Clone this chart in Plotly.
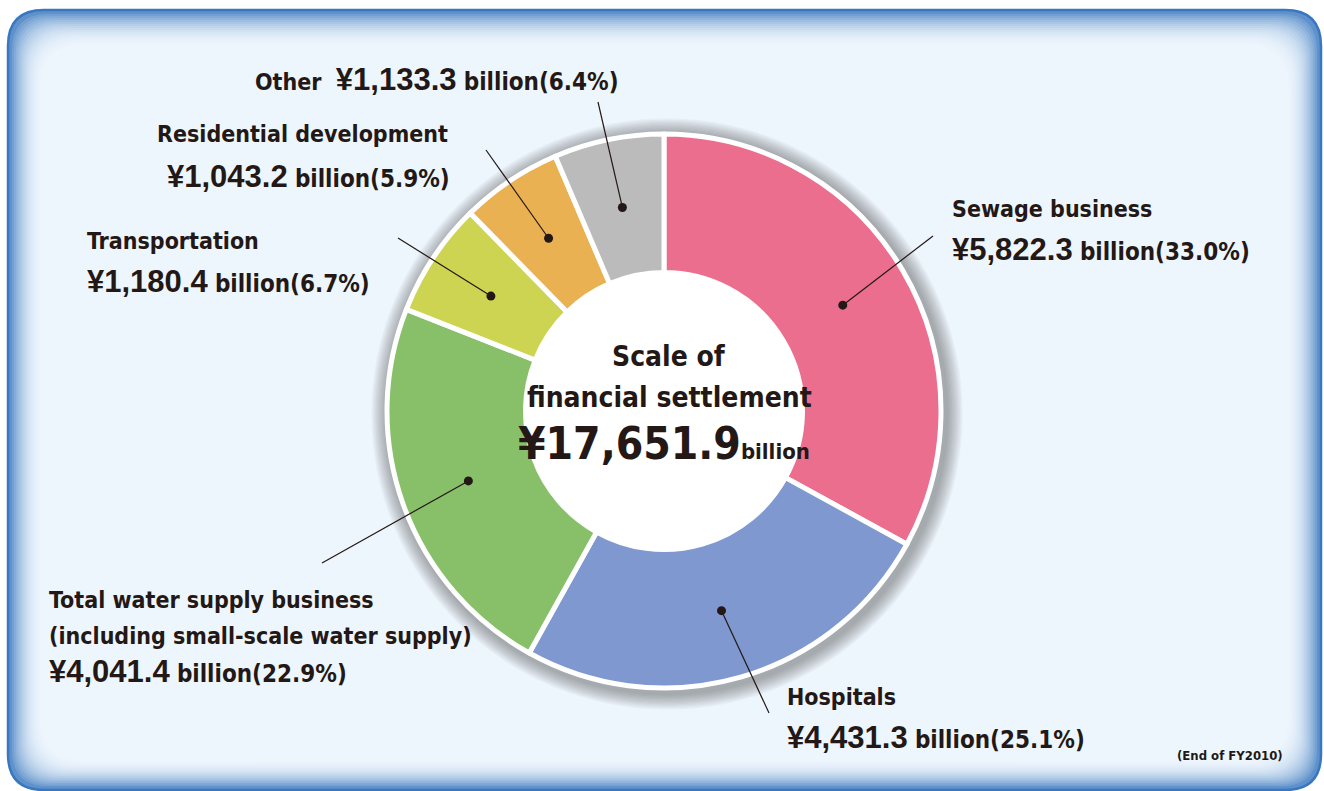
import math
import plotly.graph_objects as go

# Scale of financial settlement by business type (billion yen, end of FY2010)
categories = ["Sewage business", "Hospitals",
              "Total water supply business", "Transportation",
              "Residential development", "Other"]
values = [5822.3, 4431.3, 4041.4, 1180.4, 1043.2, 1133.3]
colors = ["#ec6e8e", "#7f98cf", "#88c06a", "#cdd452", "#e9b152", "#bcbbbb"]

# label text lines (the value line is appended from the data)
label_lines = {
    "Sewage business": ["Sewage business"],
    "Hospitals": ["Hospitals"],
    "Total water supply business": ["Total water supply business",
                                    "(including small-scale water supply)"],
    "Transportation": ["Transportation"],
    "Residential development": ["Residential development"],
    "Other": [],
}

W, H = 1324, 791
FONT = "Liberation Sans Narrow, DejaVu Sans Condensed, Arial Narrow, sans-serif"
NUMFONT = "Liberation Sans, Arial, sans-serif"
INK = "#231815"

CX, CY, R = 664, 411, 277        # pie centre / radius in pixels
HOLE = 0.5


def px(x):
    return x / W


def py(y):
    return 1 - y / H


def rrect(x0, y0, x1, y1, r):
    s = f"M{px(x0 + r)},{py(y0)} L{px(x1 - r)},{py(y0)} "
    s += f"Q{px(x1)},{py(y0)} {px(x1)},{py(y0 + r)} L{px(x1)},{py(y1 - r)} "
    s += f"Q{px(x1)},{py(y1)} {px(x1 - r)},{py(y1)} L{px(x0 + r)},{py(y1)} "
    s += f"Q{px(x0)},{py(y1)} {px(x0)},{py(y1 - r)} L{px(x0)},{py(y0 + r)} "
    s += f"Q{px(x0)},{py(y0)} {px(x0 + r)},{py(y0)} Z"
    return s


def mix(c1, c2, t):
    a = [int(c1[i:i + 2], 16) for i in (1, 3, 5)]
    b = [int(c2[i:i + 2], 16) for i in (1, 3, 5)]
    return "rgb(%d,%d,%d)" % tuple(round(a[k] + (b[k] - a[k]) * t) for k in range(3))


def circle(cx, cy, r, **kw):
    return dict(type="circle", xref="paper", yref="paper",
                x0=px(cx - r), x1=px(cx + r), y0=py(cy + r), y1=py(cy - r), **kw)


shapes = []

# panel with blue border and inner glow
PX0, PY0, PX1, PY1 = 8, 10, 1321, 790
shapes.append(dict(type="path", path=rrect(PX0, PY0, PX1, PY1, 36),
                   xref="paper", yref="paper", layer="below",
                   fillcolor="#5f91cb", line=dict(color="#3a77c2", width=2.5)))
N = 18
for i in range(1, N + 1):
    t = i / N
    ease = 1 - (1 - t) ** 2.2
    top = 2 + t * 36
    side = 2 + t * 34
    bot = 2 + t * 30
    shapes.append(dict(type="path",
                       path=rrect(PX0 + side, PY0 + top, PX1 - side, PY1 - bot, 36 + t * 10),
                       xref="paper", yref="paper", layer="below",
                       fillcolor=mix("#6294cc", "#eef6fd", ease), line=dict(width=0)))

# soft shadow under the ring
for k in range(1, 13):
    shapes.append(circle(CX + 3, CY + 3, R + 3 + k * 1.3, layer="below",
                         fillcolor="rgba(60,60,60,0.042)", line=dict(width=0)))
# white disc filling the hole
shapes.append(circle(CX, CY, R * HOLE + 1, layer="below",
                     fillcolor="white", line=dict(width=0)))

fig = go.Figure()
fig.add_trace(go.Pie(
    labels=categories, values=values, sort=False, direction="clockwise", rotation=0,
    hole=HOLE, textinfo="none", hoverinfo="label+value+percent", showlegend=False,
    marker=dict(colors=colors, line=dict(color="white", width=5)),
    domain=dict(x=[px(CX - R), px(CX + R)], y=[py(CY + R), py(CY - R)]),
))

total = sum(values)

# leader line outer ends and label anchor positions (pixels)
leader_end = {
    "Sewage business": (933, 236),
    "Hospitals": (769, 713),
    "Total water supply business": (322, 563),
    "Transportation": (398, 238),
    "Residential development": (486, 150),
    "Other": (598, 102),
}
label_pos = {
    "Sewage business": [(950, 209), (950, 249)],
    "Hospitals": [(785, 697), (785, 737)],
    "Total water supply business": [(47, 600), (47, 636), (47, 671)],
    "Transportation": [(85, 241), (85, 281)],
    "Residential development": [(155, 134), (165, 176)],
    "Other": [(253, 80)],
}

annotations = []
r_dot = R * (1 + HOLE) / 2
cum = 0.0
for name, v in zip(categories, values):
    mid = (cum + v / 2) / total
    cum += v
    ang = math.radians(90 - mid * 360)
    dx, dy = CX + r_dot * math.cos(ang), CY - r_dot * math.sin(ang)
    ex, ey = leader_end[name]
    shapes.append(dict(type="line", xref="paper", yref="paper",
                       x0=px(dx), y0=py(dy), x1=px(ex), y1=py(ey),
                       line=dict(color=INK, width=1.2)))
    shapes.append(circle(dx, dy, 4.5, fillcolor=INK, line=dict(width=0)))

    val = (f"<span style='font-family:{NUMFONT};font-size:31px'>¥{v:,.1f}</span>"
           f" <span style='font-size:24px'>billion({v / total * 100:.1f}%)</span>")
    lines = list(label_lines[name])
    if name == "Other":
        lines = [f"Other  {val}"]
    else:
        lines.append(val)
    for (lx, ly), txt in zip(label_pos[name], lines):
        annotations.append(dict(x=px(lx), y=py(ly), xref="paper", yref="paper",
                                xanchor="left", yanchor="middle", showarrow=False,
                                text=f"<b>{txt}</b>",
                                font=dict(family=FONT, size=23, color=INK)))

# centre caption
annotations += [
    dict(x=px(669), y=py(356), text="<b>Scale of</b>",
         font=dict(family=FONT, size=28, color=INK)),
    dict(x=px(670), y=py(397), text="<b>financial settlement</b>",
         font=dict(family=FONT, size=28, color=INK)),
    dict(x=px(664), y=py(443),
         text=f"<b>¥{total:,.1f}<span style='font-size:22px'>billion</span></b>",
         font=dict(family=FONT, size=44, color=INK)),
    dict(x=px(1175), y=py(755), xanchor="left", text="<b>(End of FY2010)</b>",
         font=dict(family=FONT, size=13, color=INK)),
]
for a in annotations[-4:-1]:
    a.update(xref="paper", yref="paper", xanchor="center", yanchor="middle", showarrow=False)
annotations[-1].update(xref="paper", yref="paper", yanchor="middle", showarrow=False)

fig.update_layout(
    width=W, height=H, margin=dict(l=0, r=0, t=0, b=0),
    paper_bgcolor="white", plot_bgcolor="white",
    shapes=shapes, annotations=annotations,
)
fig.write_html("out.html")
